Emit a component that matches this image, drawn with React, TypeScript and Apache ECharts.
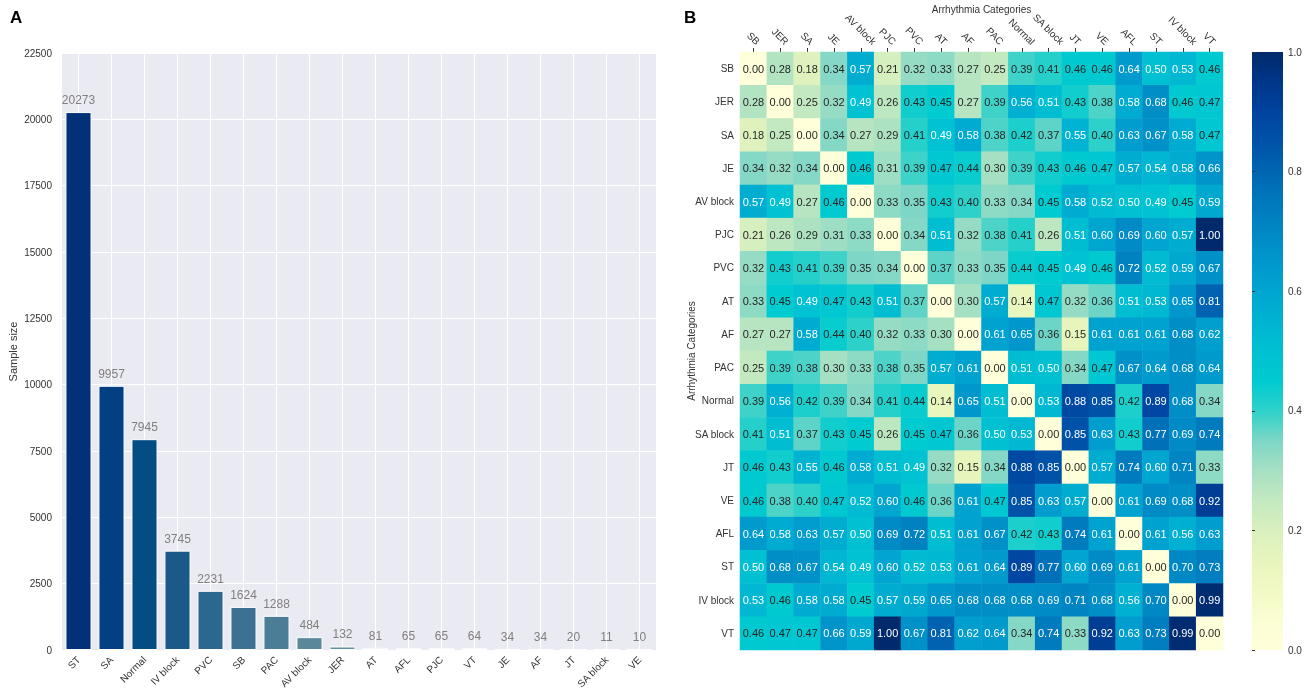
import React, { useEffect, useRef } from "react";
import * as echarts from "echarts";

const barCategories = ["ST", "SA", "Normal", "IV block", "PVC", "SB", "PAC", "AV block", "JER", "AT", "AFL", "PJC", "VT", "JE", "AF", "JT", "SA block", "VE"];
const sampleSizes = [20273, 9957, 7945, 3745, 2231, 1624, 1288, 484, 132, 81, 65, 65, 64, 34, 34, 20, 11, 10];
const barColors = ["#02317a", "#033f82", "#044c84", "#1b5a88", "#2c678e", "#3d7191", "#4c7d96", "#5a889a", "#65919f", "#8fbcc4", "#c3dade", "#cfe1e5", "#d6e5ea", "#dbe8ed", "#dee9ee", "#e2ebf0", "#e5ecf1", "#e7edf2"];
const yTicks = { min: 0, max: 22500, interval: 2500 };

const heatCategories = ["SB", "JER", "SA", "JE", "AV block", "PJC", "PVC", "AT", "AF", "PAC", "Normal", "SA block", "JT", "VE", "AFL", "ST", "IV block", "VT"];
const rowSB = [0.00, 0.28, 0.18, 0.34, 0.57, 0.21, 0.32, 0.33, 0.27, 0.25, 0.39, 0.41, 0.46, 0.46, 0.64, 0.50, 0.53, 0.46];
const rowJER = [0.28, 0.00, 0.25, 0.32, 0.49, 0.26, 0.43, 0.45, 0.27, 0.39, 0.56, 0.51, 0.43, 0.38, 0.58, 0.68, 0.46, 0.47];
const rowSA = [0.18, 0.25, 0.00, 0.34, 0.27, 0.29, 0.41, 0.49, 0.58, 0.38, 0.42, 0.37, 0.55, 0.40, 0.63, 0.67, 0.58, 0.47];
const rowJE = [0.34, 0.32, 0.34, 0.00, 0.46, 0.31, 0.39, 0.47, 0.44, 0.30, 0.39, 0.43, 0.46, 0.47, 0.57, 0.54, 0.58, 0.66];
const rowAVblock = [0.57, 0.49, 0.27, 0.46, 0.00, 0.33, 0.35, 0.43, 0.40, 0.33, 0.34, 0.45, 0.58, 0.52, 0.50, 0.49, 0.45, 0.59];
const rowPJC = [0.21, 0.26, 0.29, 0.31, 0.33, 0.00, 0.34, 0.51, 0.32, 0.38, 0.41, 0.26, 0.51, 0.60, 0.69, 0.60, 0.57, 1.00];
const rowPVC = [0.32, 0.43, 0.41, 0.39, 0.35, 0.34, 0.00, 0.37, 0.33, 0.35, 0.44, 0.45, 0.49, 0.46, 0.72, 0.52, 0.59, 0.67];
const rowAT = [0.33, 0.45, 0.49, 0.47, 0.43, 0.51, 0.37, 0.00, 0.30, 0.57, 0.14, 0.47, 0.32, 0.36, 0.51, 0.53, 0.65, 0.81];
const rowAF = [0.27, 0.27, 0.58, 0.44, 0.40, 0.32, 0.33, 0.30, 0.00, 0.61, 0.65, 0.36, 0.15, 0.61, 0.61, 0.61, 0.68, 0.62];
const rowPAC = [0.25, 0.39, 0.38, 0.30, 0.33, 0.38, 0.35, 0.57, 0.61, 0.00, 0.51, 0.50, 0.34, 0.47, 0.67, 0.64, 0.68, 0.64];
const rowNormal = [0.39, 0.56, 0.42, 0.39, 0.34, 0.41, 0.44, 0.14, 0.65, 0.51, 0.00, 0.53, 0.88, 0.85, 0.42, 0.89, 0.68, 0.34];
const rowSAblock = [0.41, 0.51, 0.37, 0.43, 0.45, 0.26, 0.45, 0.47, 0.36, 0.50, 0.53, 0.00, 0.85, 0.63, 0.43, 0.77, 0.69, 0.74];
const rowJT = [0.46, 0.43, 0.55, 0.46, 0.58, 0.51, 0.49, 0.32, 0.15, 0.34, 0.88, 0.85, 0.00, 0.57, 0.74, 0.60, 0.71, 0.33];
const rowVE = [0.46, 0.38, 0.40, 0.47, 0.52, 0.60, 0.46, 0.36, 0.61, 0.47, 0.85, 0.63, 0.57, 0.00, 0.61, 0.69, 0.68, 0.92];
const rowAFL = [0.64, 0.58, 0.63, 0.57, 0.50, 0.69, 0.72, 0.51, 0.61, 0.67, 0.42, 0.43, 0.74, 0.61, 0.00, 0.61, 0.56, 0.63];
const rowST = [0.50, 0.68, 0.67, 0.54, 0.49, 0.60, 0.52, 0.53, 0.61, 0.64, 0.89, 0.77, 0.60, 0.69, 0.61, 0.00, 0.70, 0.73];
const rowIVblock = [0.53, 0.46, 0.58, 0.58, 0.45, 0.57, 0.59, 0.65, 0.68, 0.68, 0.68, 0.69, 0.71, 0.68, 0.56, 0.70, 0.00, 0.99];
const rowVT = [0.46, 0.47, 0.47, 0.66, 0.59, 1.00, 0.67, 0.81, 0.62, 0.64, 0.34, 0.74, 0.33, 0.92, 0.63, 0.73, 0.99, 0.00];
const heatRows = [rowSB, rowJER, rowSA, rowJE, rowAVblock, rowPJC, rowPVC, rowAT, rowAF, rowPAC, rowNormal, rowSAblock, rowJT, rowVE, rowAFL, rowST, rowIVblock, rowVT];

const colorbarTicks = { min: 0, max: 1, interval: 0.2 };
const cmap = ["#ffffd9", "#fbfdd3", "#f2f9c4", "#e7f5bd", "#d9f0be", "#c3e9c0", "#a6e0c3", "#7dd6c6", "#2ed1c9", "#00cbd0", "#00c0d2", "#00b3d2", "#00a5d0", "#0097cc", "#0088c4", "#0078bc", "#0066b2", "#0052a8", "#0043a0", "#003688", "#002a6c"];

const FONT = "'Liberation Sans', Arial, Helvetica, sans-serif";

export default function App() {
  const ref = useRef<HTMLDivElement>(null);
  useEffect(() => {
    if (!ref.current) return;
    const chart = echarts.init(ref.current, undefined, { renderer: "svg" });

    const heatData: any[] = [];
    heatRows.forEach((row, r) => {
      row.forEach((v, c) => {
        heatData.push({
          value: [c, r, v],
          label: { color: v >= 0.48 ? "#ffffff" : "#262626" },
        });
      });
    });

    // top label placement: rotated labels whose bounding boxes sit on a common line above the ticks
    const ctx = document.createElement("canvas").getContext("2d")!;
    ctx.font = `10px ${FONT}`;
    const labelMargin = 24;
    const bboxGap = 5;
    const textH = 11;
    const topRich: any = {};
    heatCategories.forEach((c, i) => {
      const L = ctx.measureText(c).width;
      const target = labelMargin - bboxGap - (L + textH) * 0.3536;
      const dy = Math.max(0, target);
      const p = 1.4142 * dy;
      topRich["t" + i] = { fontSize: 10, color: "#333", padding: [p, 0, 0, p] };
    });

    const cbLeft = 1252, cbTop = 52, cbW = 31, cbH = 598;
    const stops = cmap.map((col, i) => ({ offset: i / (cmap.length - 1), color: col }));

    chart.setOption({
      animation: false,
      textStyle: { fontFamily: FONT },
      grid: [
        { left: 62, top: 53, width: 594, height: 597, show: true, backgroundColor: "#eaeaf2", borderWidth: 0, outerBoundsMode: "none", containLabel: false },
        { left: 740, top: 52, width: 483, height: 598, outerBoundsMode: "none", containLabel: false },
        { left: cbLeft, top: cbTop, width: cbW, height: cbH, outerBoundsMode: "none", containLabel: false },
      ],
      graphic: [
        { type: "text", left: 10, top: 9, style: { text: "A", font: `bold 17px ${FONT}`, fill: "#000" } },
        { type: "text", left: 684, top: 9, style: { text: "B", font: `bold 17px ${FONT}`, fill: "#000" } },
        {
          type: "rect",
          shape: { x: cbLeft, y: cbTop, width: cbW, height: cbH },
          style: { fill: new echarts.graphic.LinearGradient(0, 1, 0, 0, stops) },
          z: 0,
        },
      ],
      visualMap: {
        show: false,
        type: "continuous",
        min: 0,
        max: 1,
        seriesIndex: 1,
        inRange: { color: cmap },
      },
      xAxis: [
        {
          gridIndex: 0,
          type: "category",
          data: barCategories,
          axisLine: { show: false },
          axisTick: { show: false },
          axisLabel: { rotate: 45, fontSize: 10, color: "#333", margin: 8, interval: 0 },
          splitLine: { show: false },
        },
        {
          gridIndex: 1,
          type: "category",
          data: heatCategories,
          position: "top",
          name: "Arrhythmia Categories",
          nameLocation: "middle",
          nameGap: 38,
          nameMoveOverlap: false,
          nameTextStyle: { fontSize: 10, color: "#333" },
          axisLine: { show: false },
          axisTick: { show: true, alignWithLabel: true, length: 4, lineStyle: { color: "#333" } },
          axisLabel: {
            rotate: 45,
            fontSize: 10,
            color: "#333",
            margin: labelMargin,
            interval: 0,
            align: "center",
            verticalAlign: "middle",
            formatter: (v: string, i: number) => `{t${i}|${v}}`,
            rich: topRich,
          },
          splitLine: { show: false },
        },
        {
          gridIndex: 2,
          type: "value",
          show: false,
        },
      ],
      yAxis: [
        {
          gridIndex: 0,
          type: "value",
          min: yTicks.min,
          max: yTicks.max,
          interval: yTicks.interval,
          name: "Sample size",
          nameLocation: "middle",
          nameGap: 44,
          nameMoveOverlap: false,
          nameTextStyle: { fontSize: 11, color: "#333" },
          axisLine: { show: false },
          axisTick: { show: false },
          axisLabel: { fontSize: 10, color: "#333", margin: 10, formatter: (v: number) => String(v) },
          splitLine: { show: true, lineStyle: { color: "#ffffff", width: 1 } },
        },
        {
          gridIndex: 1,
          type: "category",
          data: heatCategories,
          inverse: true,
          name: "Arrhythmia Categories",
          nameLocation: "middle",
          nameGap: 44,
          nameMoveOverlap: false,
          nameTextStyle: { fontSize: 10, color: "#333" },
          axisLine: { show: false },
          axisTick: { show: false },
          axisLabel: { fontSize: 10, color: "#333", margin: 6, interval: 0 },
          splitLine: { show: false },
        },
        {
          gridIndex: 2,
          type: "value",
          position: "right",
          min: colorbarTicks.min,
          max: colorbarTicks.max,
          interval: colorbarTicks.interval,
          axisLine: { show: false },
          axisTick: { show: true, length: 3, lineStyle: { color: "#333" } },
          axisLabel: { fontSize: 10, color: "#333", margin: 5, formatter: (v: number) => v.toFixed(1) },
          splitLine: { show: false },
        },
      ],
      series: [
        {
          type: "bar",
          xAxisIndex: 0,
          yAxisIndex: 0,
          z: 3,
          data: sampleSizes.map((v, i) => ({ value: v, itemStyle: { color: barColors[i] } })),
          barCategoryGap: "21%",
          itemStyle: { borderColor: "#ffffff", borderWidth: 1 },
          label: { show: true, position: "top", distance: 6, fontSize: 12, color: "#808080" },
        },
        {
          type: "heatmap",
          xAxisIndex: 1,
          yAxisIndex: 1,
          data: heatData,
          label: { show: true, fontSize: 11, formatter: (p: any) => p.value[2].toFixed(2) },
          emphasis: { disabled: true },
        },
        {
          // vertical grid lines at the category centres of the bar chart
          type: "line",
          xAxisIndex: 0,
          yAxisIndex: 0,
          z: 1,
          data: [],
          silent: true,
          markLine: {
            z: 1,
            silent: true,
            symbol: "none",
            label: { show: false },
            lineStyle: { color: "#ffffff", width: 1, type: "solid" },
            data: barCategories.map((c) => ({ xAxis: c })),
          },
        },
      ],
    });
    return () => chart.dispose();
  }, []);
  return <div ref={ref} style={{ position: "fixed", left: 0, top: 0, width: 1307, height: 693 }} />;
}
